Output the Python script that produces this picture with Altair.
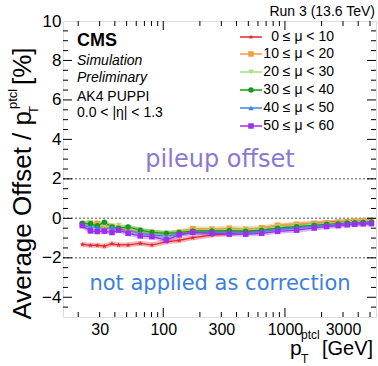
import altair as alt
import pandas as pd

# ---------------- data ----------------
pt = [21.6, 25.2, 28.7, 32.8, 37.9, 43, 51.4, 64.7, 80.7, 106, 135, 175, 251,
      349, 476, 644, 871, 1247, 1738, 2197, 2735, 3243, 3749, 4389, 5140]

series_labels = ["0 \u2264 \u03bc < 10", "10 \u2264 \u03bc < 20", "20 \u2264 \u03bc < 30",
                 "30 \u2264 \u03bc < 40", "40 \u2264 \u03bc < 50", "50 \u2264 \u03bc < 60"]

mu_0_10 = [-1.32, -1.37, -1.37, -1.41, -1.29, -1.35, -1.35, -1.27, -1.35, -1.19, -1.12, -0.98, -0.85,
           -0.78, -0.68, -0.55, -0.42, -0.33, -0.27, -0.22, -0.18, -0.16, -0.14, -0.12, -0.10]
mu_10_20 = [-0.30, -0.22, -0.25, -0.45, -0.40, -0.50, -0.55, -0.62, -0.72, -0.78, -0.70, -0.52, -0.55,
            -0.50, -0.55, -0.48, -0.35, -0.30, -0.25, -0.22, -0.20, -0.17, -0.14, -0.12, -0.10]
mu_20_30 = [-0.25, -0.20, -0.35, -0.40, -0.45, -0.35, -0.50, -0.60, -0.70, -0.78, -0.72, -0.60, -0.60,
            -0.58, -0.60, -0.55, -0.42, -0.36, -0.30, -0.27, -0.24, -0.21, -0.18, -0.16, -0.14]
mu_30_40 = [-0.25, -0.28, -0.38, -0.20, -0.44, -0.50, -0.44, -0.60, -0.71, -0.76, -0.72, -0.64, -0.64,
            -0.62, -0.65, -0.60, -0.50, -0.42, -0.35, -0.30, -0.27, -0.24, -0.22, -0.20, -0.18]
mu_40_50 = [-0.35, -0.45, -0.45, -0.55, -0.45, -0.55, -0.62, -0.75, -0.85, -0.90, -0.80, -0.72, -0.72,
            -0.70, -0.72, -0.66, -0.56, -0.48, -0.40, -0.35, -0.31, -0.28, -0.25, -0.23, -0.21]
mu_50_60 = [-0.37, -0.64, -0.67, -0.65, -0.72, -0.60, -0.76, -0.89, -0.93, -1.10, -0.84, -0.71, -0.76,
            -0.80, -0.80, -0.76, -0.66, -0.60, -0.49, -0.42, -0.37, -0.33, -0.30, -0.28, -0.27]

series_values = [mu_0_10, mu_10_20, mu_20_30, mu_30_40, mu_40_50, mu_50_60]
series_colors = ["#e3262b", "#f99a3c", "#a8dc7c", "#139a1b", "#3f86e6", "#9b2ef0"]
series_shapes = [
    "M0,-1L0.22,-0.31L0.95,-0.31L0.36,0.12L0.59,0.81L0,0.38L-0.59,0.81L-0.36,0.12L-0.95,-0.31L-0.22,-0.31Z",
    "square", "triangle-down", "circle", "triangle-up", "square"]

ref_lines = [2, 0, -2]
x_labels = [30, 100, 300, 1000, 3000]
y_labels = [-4, -2, 0, 2, 4, 6, 8, 10]
x_major = [100, 1000]
x_minor = [20, 30, 40, 50, 60, 70, 80, 90, 200, 300, 400, 500, 600, 700, 800, 900,
           2000, 3000, 4000, 5000]
y_major = [-4, -2, 0, 2, 4, 6, 8]
y_minor = [-4.5, -3.5, -3, -2.5, -1.5, -1, -0.5, 0.5, 1, 1.5, 2.5, 3, 3.5, 4.5, 5, 5.5,
           6.5, 7, 7.5, 8.5, 9, 9.5]

# ---------------- layout ----------------
W, H = 313, 296
XD = [15, 5600]
YD = [-5, 10]
FONT = "Liberation Sans"

rows = []
for lab, vals in zip(series_labels, series_values):
    for p, v in zip(pt, vals):
        rows.append({"pt": p, "off": v, "series": lab})
df = pd.DataFrame(rows)

xs = alt.Scale(type="log", domain=XD, nice=False)
ys = alt.Scale(domain=YD, nice=False, zero=False)
cs = alt.Scale(domain=series_labels, range=series_colors)
ss = alt.Scale(domain=series_labels, range=series_shapes)

base = alt.Chart(df)

band = base.mark_line(strokeWidth=5, opacity=0.35, clip=True).encode(
    x=alt.X("pt:Q", scale=xs, axis=alt.Axis(values=x_labels, ticks=False, domain=False, grid=False,
                                            labelFontSize=16, labelFont=FONT, labelColor="black",
                                            labelPadding=4, title=None, labelFlush=False,
                                            format="d")),
    y=alt.Y("off:Q", scale=ys, axis=alt.Axis(values=y_labels, ticks=False, domain=False, grid=False,
                                             labelFontSize=17, labelFont=FONT, labelColor="black",
                                             labelPadding=2, title=None)),
    color=alt.Color("series:N", scale=cs, legend=None),
    detail="series:N",
)
lines = base.mark_line(strokeWidth=1.2, clip=True).encode(
    x=alt.X("pt:Q", scale=xs), y=alt.Y("off:Q", scale=ys),
    color=alt.Color("series:N", scale=cs, legend=None))
points = base.mark_point(filled=True, size=30, opacity=1, clip=True).encode(
    x=alt.X("pt:Q", scale=xs), y=alt.Y("off:Q", scale=ys),
    color=alt.Color("series:N", scale=cs, legend=None),
    shape=alt.Shape("series:N", scale=ss, legend=None))

refdf = pd.DataFrame({"v": ref_lines})
refs = alt.Chart(refdf).mark_rule(color="#8c8c8c", strokeDash=[2, 2], strokeWidth=1.5).encode(
    y=alt.Y("v:Q", scale=ys), x=alt.value(0), x2=alt.value(W))

# custom inward ticks
def yticks(vals, ln):
    d = pd.DataFrame({"v": vals})
    left = alt.Chart(d).mark_rule(color="black", strokeWidth=1).encode(
        y=alt.Y("v:Q", scale=ys), x=alt.value(0), x2=alt.value(ln))
    right = alt.Chart(d).mark_rule(color="black", strokeWidth=1).encode(
        y=alt.Y("v:Q", scale=ys), x=alt.value(W - ln), x2=alt.value(W))
    return left + right

def xticks(vals, ln):
    d = pd.DataFrame({"v": vals})
    bot = alt.Chart(d).mark_rule(color="black", strokeWidth=1).encode(
        x=alt.X("v:Q", scale=xs), y=alt.value(H), y2=alt.value(H - ln))
    top = alt.Chart(d).mark_rule(color="black", strokeWidth=1).encode(
        x=alt.X("v:Q", scale=xs), y=alt.value(0), y2=alt.value(ln))
    return bot + top

ticks = yticks(y_major, 9) + yticks(y_minor, 5) + xticks(x_major, 9) + xticks(x_minor, 5)

# text annotations
def txt(s, x, y, size=14, color="black", align="left", weight="normal", style="normal",
        font=FONT, angle=0, baseline="middle"):
    kw = dict(text=s, align=align, baseline=baseline, fontSize=size, color=color,
              fontWeight=weight, fontStyle=style, font=font)
    if angle:
        kw["angle"] = angle
    return alt.Chart(pd.DataFrame({"a": [0]})).mark_text(**kw).encode(x=alt.value(x), y=alt.value(y))

texts = [
    txt("CMS", 14, 20, size=18, weight="bold"),
    txt("Simulation", 14, 40, style="italic"),
    txt("Preliminary", 14, 57, style="italic"),
    txt("AK4 PUPPI", 14, 76),
    txt("0.0 < |\u03b7| < 1.3", 14, 92),
    txt("Run 3 (13.6 TeV)", 312, -9, align="right"),
    txt("pileup offset", 157, 139, size=24, color="#8b78d2", align="center", font="DejaVu Sans"),
    txt("not applied as correction", 157, 263, size=21, color="#3b7fe0", align="center",
        font="DejaVu Sans"),
    # x title
    txt("p", 227, 334, size=21, baseline="alphabetic"),
    txt("ptcl", 238, 318, size=12, baseline="alphabetic"),
    txt("T", 238, 342, size=12, baseline="alphabetic"),
    txt("[GeV]", 259, 334, size=20, baseline="alphabetic"),
    # y title (rotated)
    txt("Average Offset / p", -40, 90, size=26, align="right", angle=270),
    txt("ptcl", -50, 88, size=13, align="left", angle=270),
    txt("T", -29, 93, size=13, align="left", angle=270),
    txt("[%]", -40, 64, size=26, align="left", angle=270),
]

# legend
leg_y = [16, 33, 51, 69, 87, 105]
legend_layers = []
for lab, col, shp, yy in zip(series_labels, series_colors, series_shapes, leg_y):
    d1 = pd.DataFrame({"a": [0]})
    legend_layers.append(alt.Chart(d1).mark_rule(color=col, strokeWidth=1.5).encode(
        x=alt.value(177), x2=alt.value(199), y=alt.value(yy)))
    legend_layers.append(alt.Chart(d1).mark_point(filled=True, size=30, color=col, shape=shp,
                                                  opacity=1).encode(x=alt.value(188), y=alt.value(yy)))
    legend_layers.append(txt(lab, 271, yy, align="right"))

chart = alt.layer(refs, band, lines, points, ticks, *texts, *legend_layers).properties(
    width=W, height=H,
    padding={"left": 63, "top": 21, "right": 2, "bottom": 49},
    autosize=alt.AutoSizeParams(type="none"),
).configure_view(stroke="black", strokeWidth=2).configure(background="white")

chart.save("out.html", embed_options={"renderer": "svg", "actions": False})
